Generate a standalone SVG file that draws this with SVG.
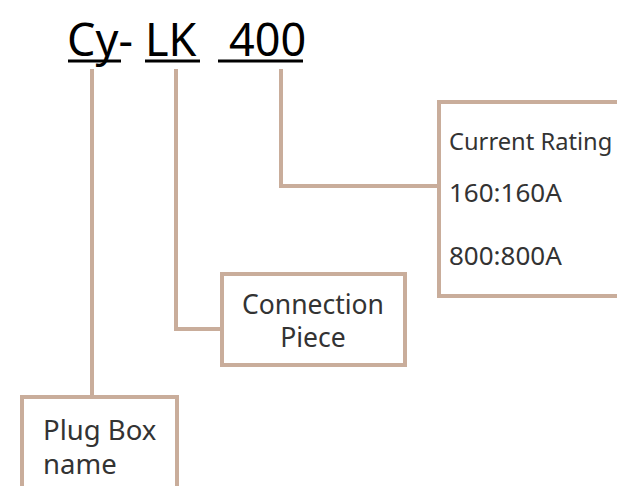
<svg xmlns="http://www.w3.org/2000/svg" width="617" height="486" viewBox="0 0 617 486">
<style>
.ln{fill:none;stroke:#c9ad9b;stroke-width:4}
.bx{fill:#fff;stroke:#c9ad9b;stroke-width:4}
.t{font-family:"Noto Sans","Open Sans",sans-serif;fill:#333}
.ttl{font-family:"Noto Sans","Open Sans",sans-serif;fill:#000;font-size:45px}
.ul{stroke:#000;stroke-width:3}
</style>
<g id="title">
<text class="ttl" x="67" y="56">Cy-</text>
<text class="ttl" x="145" y="56">LK</text>
<text class="ttl" x="229" y="56">400</text>
<line class="ul" x1="68" y1="61" x2="121" y2="61"/>
<line class="ul" x1="145" y1="61" x2="200" y2="61"/>
<line class="ul" x1="218" y1="61" x2="303" y2="61"/>
</g>
<g id="connectors">
<polyline class="ln" points="92,69 92,396"/>
<polyline class="ln" points="176,69 176,329 221,329"/>
<polyline class="ln" points="281,69 281,186 438,186"/>
</g>
<g id="rating">
<rect class="bx" x="439" y="102" width="190" height="194"/>
<text class="t" x="449" y="150" font-size="23.7">Current Rating</text>
<text class="t" x="449" y="202" font-size="26">160:160A</text>
<text class="t" x="449" y="265" font-size="26">800:800A</text>
</g>
<g id="connection">
<rect class="bx" x="222" y="274" width="183" height="91"/>
<text class="t" x="313" y="314" font-size="26.5" text-anchor="middle">Connection</text>
<text class="t" x="313" y="347" font-size="26.5" text-anchor="middle">Piece</text>
</g>
<g id="plugbox">
<rect class="bx" x="22" y="397" width="155" height="110"/>
<text class="t" x="43" y="440" font-size="27.5">Plug Box</text>
<text class="t" x="43" y="474" font-size="27.5">name</text>
</g>
</svg>
